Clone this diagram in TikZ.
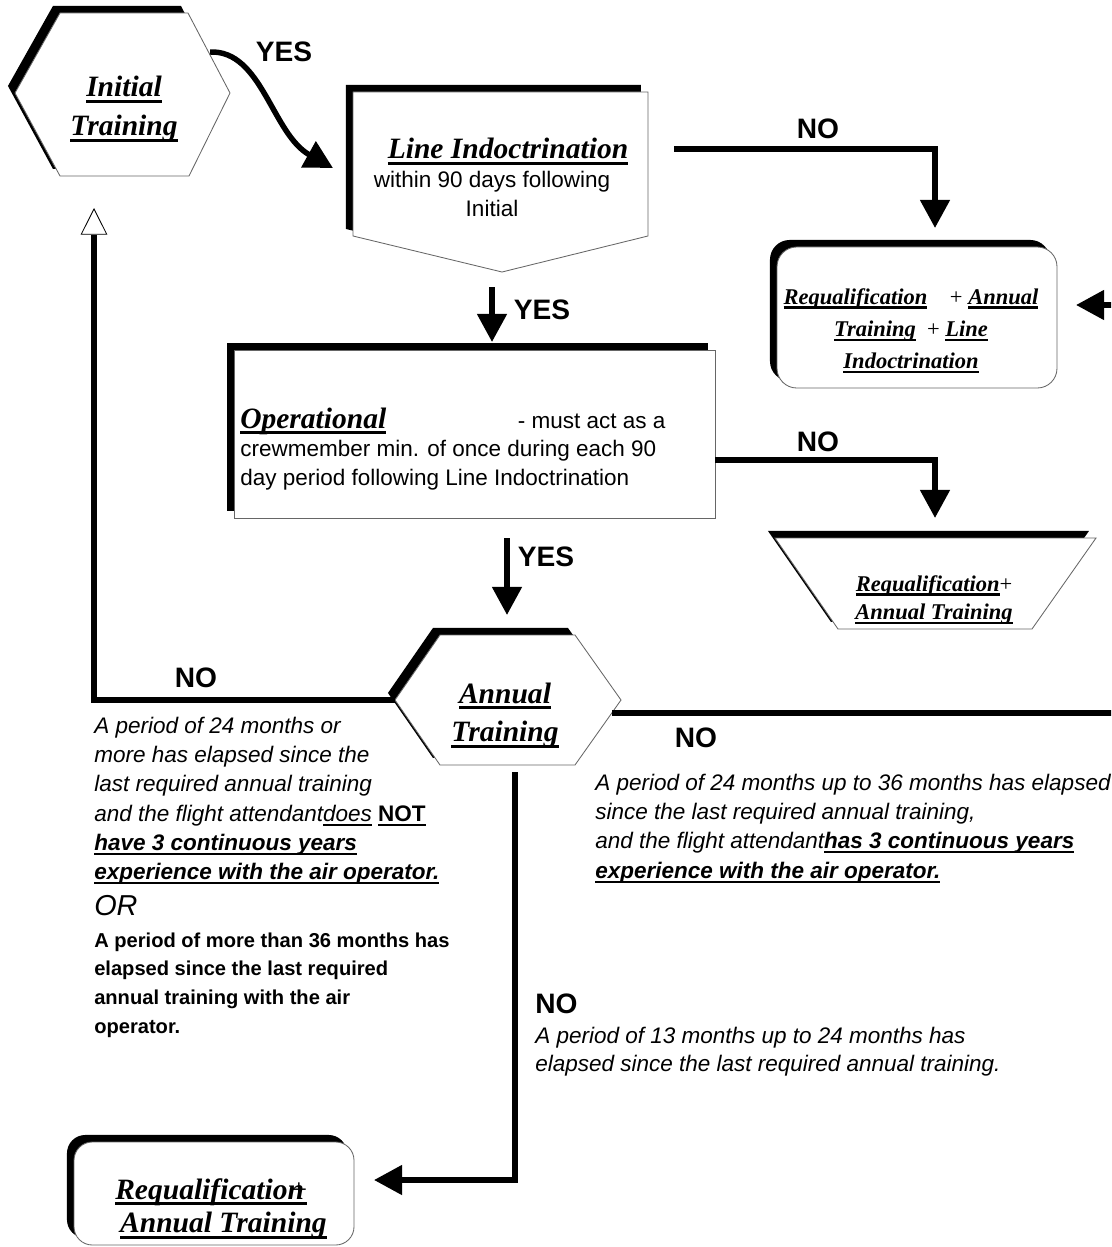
\documentclass[tikz,border=0pt]{standalone}
\usepackage{fontspec}
\setmainfont{Liberation Serif}
\setsansfont{Liberation Sans}
\usetikzlibrary{arrows.meta,shadows}
\newcommand{\uline}[1]{\leavevmode\setbox0\hbox{#1}\rlap{\rule[-0.2em]{\wd0}{0.09em}}\box0\relax}

\begin{document}
\begin{tikzpicture}[x=0.025cm,y=-0.025cm]
\tikzset{
  boxshape/.style={fill=white,draw=black!60,line width=0.6pt,
    general shadow={fill=black,shadow xshift=-5pt,shadow yshift=5pt}},
  flow/.style={line width=3.9pt,-{Triangle[width=20.5pt,length=20pt]}},
  backflow/.style={line width=3.9pt,-{Triangle[open,fill=white,width=19pt,length=19pt,line width=0.6pt]}},
  head/.style={inner sep=0pt,anchor=base,font=\fontsize{21}{27.7}\selectfont\bfseries\itshape},
  subhead/.style={inner sep=0pt,anchor=base,font=\fontsize{16}{22.8}\selectfont\bfseries\itshape},
  answer/.style={inner sep=0pt,font=\sffamily\bfseries\fontsize{20}{24}\selectfont},
  body/.style={inner sep=0pt,font=\sffamily\fontsize{16}{20.6}\selectfont},
  note/.style={inner sep=0pt,anchor=base west,font=\sffamily\itshape\fontsize{16}{20.9}\selectfont},
}
\useasboundingbox (0,0) rectangle (1111,1247);

% Shapes (with black shadow up and left)
\path[boxshape] (15,93) -- (60,13) -- (188,13) -- (230,93) -- (189,176) -- (60,176) -- cycle;
\path[boxshape] (353,92) -- (648,92) -- (648,236) -- (502,272) -- (353,236) -- cycle;
\path[boxshape,rounded corners=14pt] (777,247) rectangle (1057,388);
\path[boxshape] (234,350) rectangle (715,518);
\path[boxshape] (775,538) -- (1096,538) -- (1032,629) -- (838,629) -- cycle;
\path[boxshape] (395,700) -- (440,635) -- (575,635) -- (621,700) -- (575,765) -- (440,765) -- cycle;
\path[boxshape,rounded corners=13pt] (74,1142) rectangle (354,1245);

% Texts in the shapes
\node[head] (initial) at (124,97) {\parbox[t]{6cm}{\centering\uline{Initial}\\\uline{Training}}};
\node[head] (lineTitle) at (508,159) {\uline{Line Indoctrination}};
\node[body,anchor=base] (lineText) at (492,188) {\parbox[t]{8cm}{\centering within 90 days following\\Initial}};
\node[subhead] (requalA) at (911,304) {\parbox[t]{8cm}{\centering
  \uline{Requalification}\quad{\mdseries\upshape+} \uline{Annual}\\
  \uline{Training}\ \ {\mdseries\upshape+} \uline{Line}\\
  \uline{Indoctrination}}};
\node[body,anchor=base west] (operational) at (240,428) {\parbox[t]{10.625cm}{\raggedright
  {\rmfamily\bfseries\itshape\fontsize{21}{20.3}\selectfont\uline{Operational}}\hfill- must act as a\\
  crewmember min. of once during each 90\\
  day period following Line Indoctrination}};
\node[subhead] (requalB) at (934,591) {\parbox[t]{8cm}{\centering\baselineskip=20.6pt
  \uline{Requalification}{\mdseries\upshape+}\\
  \uline{Annual Training}}};
\node[head] (annual) at (505,703) {\parbox[t]{6cm}{\centering\uline{Annual}\\\uline{Training}}};
\node[head,anchor=base west] (requalC) at (115,1199) {\parbox[t]{8cm}{\raggedright\baselineskip=24pt
  \uline{Requalification}\kern-.45em\uline{\mdseries\upshape+}\\
  \hspace*{3.5pt}\uline{Annual Training}}};

% YES / NO labels
\node[answer] (yesA) at (284,52) {YES};
\node[answer] (yesB) at (542,310) {YES};
\node[answer] (yesC) at (546,557) {YES};
\node[answer] (noA) at (818,129) {NO};
\node[answer] (noB) at (818,442) {NO};
\node[answer] (noC) at (196,678) {NO};
\node[answer] (noD) at (696,738) {NO};
\node[answer,anchor=base west] (noE) at (535,1013) {NO};

% Conditions
\node[note] (condLeft) at (94,733) {\parbox[t]{10cm}{\raggedright
  A period of 24 months or\\
  more has elapsed since the\\
  last required annual training\\
  and the flight attendant\uline{does} {\upshape\bfseries\uline{NOT}}\\
  {\bfseries\uline{have 3 continuous years}}\\
  {\bfseries\uline{experience with the air operator.}}}};
\node[note,font=\sffamily\itshape\fontsize{20.5}{24}\selectfont] (condOr) at (94,915) {OR};
\node[note,font=\sffamily\bfseries\fontsize{14.3}{20.4}\selectfont] (condMore) at (94,947) {\parbox[t]{10cm}{\raggedright
  A period of more than 36 months has\\
  elapsed since the last required\\
  annual training with the air\\
  operator.}};
\node[note] (condRight) at (595,790) {\parbox[t]{14cm}{\raggedright
  A period of 24 months up to 36 months has elapsed\\
  since the last required annual training,\\
  and the flight attendant{\bfseries\uline{has 3 continuous years}}\\
  {\bfseries\uline{experience with the air operator.}}}};
\node[note,font=\sffamily\itshape\fontsize{16}{20.6}\selectfont] (condLow) at (535,1043) {\parbox[t]{12cm}{\raggedright
  A period of 13 months up to 24 months has\\
  elapsed since the last required annual training.}};

% Connector ends
\coordinate (initOut) at (210,52);
\coordinate (lineIn) at (333,168);
\coordinate (lineOut) at (492,287);
\coordinate (opIn) at (492,342);
\coordinate (lineNo) at (674,149);
\coordinate (reqIn) at (935,228);
\coordinate (opNo) at (715,460);
\coordinate (trapIn) at (935,518);
\coordinate (opOut) at (507,538);
\coordinate (annIn) at (507,615);
\coordinate (annW) at (395,700);
\coordinate (initIn) at (94,208);
\coordinate (annE) at (612,713);
\coordinate (offPage) at (1135,713);
\coordinate (reqE) at (1076,305);
\coordinate (annS) at (515,772);
\coordinate (botIn) at (374,1180);

% Connectors
\draw[flow] (initOut) .. controls (262,50) and (272,134) .. (lineIn);
\draw[flow] (lineOut) -- (opIn);
\draw[flow] (lineNo) -| (reqIn);
\draw[flow] (opNo) -| (trapIn);
\draw[flow] (opOut) -- (annIn);
\draw[backflow] (annW) -| (initIn);
\begin{scope}
\clip (0,0) rectangle (1111,1247);
\draw[flow] (annE) -- (offPage) |- (reqE);
\end{scope}
\draw[flow] (annS) |- (botIn);

\end{tikzpicture}
\end{document}
